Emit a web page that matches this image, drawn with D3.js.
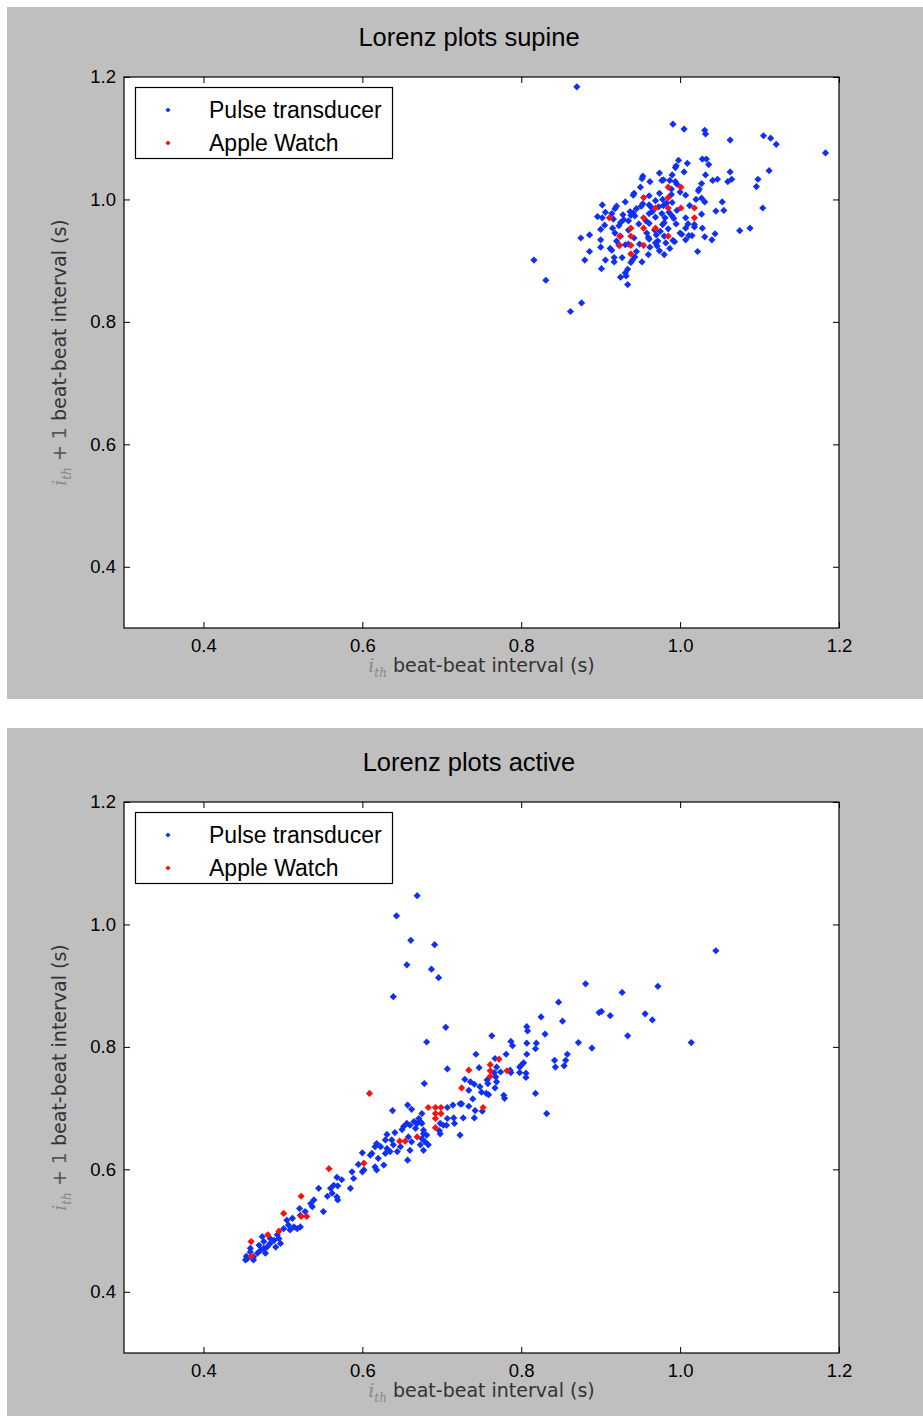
<!DOCTYPE html>
<html>
<head>
<meta charset="utf-8">
<script src="https://cdn.jsdelivr.net/npm/d3@7"></script>
<style>
  html, body { margin: 0; padding: 0; background: #ffffff; }
  svg { display: block; }
</style>
</head>
<body>
<svg id="chart" width="923" height="1416"></svg>
<script>
// ---------------- data ----------------
const xTicks = [0.4, 0.6, 0.8, 1.0, 1.2];
const yTicks = [0.4, 0.6, 0.8, 1.0, 1.2];
const seriesNames = ["Pulse transducer", "Apple Watch"];
const titles = ["Lorenz plots supine", "Lorenz plots active"];

const supinePulse = [
  [0.870,1.184],[0.991,1.123],[1.005,1.115],[1.031,1.113],[1.032,1.107],[1.063,1.097],[1.105,1.104],[1.114,1.100],[1.121,1.090],[1.183,1.076],
  [0.998,1.064],[1.009,1.059],[0.994,1.052],[0.995,1.055],[1.028,1.066],[1.033,1.066],[1.036,1.057],[1.005,1.045],[1.063,1.045],[1.112,1.047],[0.974,1.043],[1.032,1.040],
  [0.952,1.034],[0.953,1.038],[0.962,1.029],[0.977,1.031],[0.979,1.032],[0.987,1.031],[0.994,1.029],[0.996,1.025],[1.041,1.031],[1.047,1.033],[1.060,1.029],[1.065,1.033],
  [1.098,1.033],[1.096,1.021],[1.027,1.026],[1.024,1.017],[1.023,1.014],[1.000,1.012],[1.007,1.007],[0.989,1.017],[0.989,1.008],[0.974,1.010],[0.942,1.010],[0.941,1.007],
  [0.961,1.006],[0.969,0.998],[0.953,0.993],[0.951,0.989],[0.961,0.991],[0.963,0.988],[0.973,0.988],[0.979,0.990],[0.983,0.994],[0.931,0.996],[0.920,0.989],[0.902,0.991],
  [0.906,0.979],[0.896,0.972],[0.902,0.970],[0.937,0.980],[0.941,0.978],[0.938,0.974],[0.943,0.973],[0.961,0.977],[0.969,0.971],[0.977,0.977],[0.986,0.979],[0.990,0.973],
  [0.992,0.969],[0.981,0.970],[1.007,0.970],[1.027,0.976],[1.027,1.002],[1.031,0.996],[1.053,0.996],[1.045,0.981],[1.055,0.982],[1.104,0.986],[0.914,0.977],[0.916,0.968],
  [0.929,0.967],[0.925,0.962],[0.923,0.957],[0.915,0.953],[0.900,0.951],[0.935,0.950],[0.961,0.961],[0.978,0.959],[0.980,0.962],[0.985,0.952],[1.007,0.953],[1.018,0.959],
  [1.018,0.955],[1.028,0.953],[1.075,0.949],[1.088,0.953],[0.886,0.942],[0.875,0.937],[0.900,0.934],[0.900,0.922],[0.912,0.920],[0.914,0.917],[0.920,0.932],[0.923,0.925],
  [0.931,0.926],[0.935,0.927],[0.942,0.937],[0.949,0.927],[0.960,0.938],[0.961,0.935],[0.970,0.942],[0.972,0.932],[0.969,0.929],[0.971,0.924],[0.980,0.940],[0.991,0.933],
  [0.993,0.931],[0.982,0.929],[0.987,0.920],[0.974,0.916],[0.980,0.910],[0.962,0.922],[1.002,0.943],[1.007,0.934],[1.011,0.941],[1.015,0.941],[1.031,0.939],[1.044,0.944],
  [1.040,0.934],[1.022,0.915],[0.886,0.915],[0.880,0.901],[0.906,0.901],[0.917,0.898],[0.917,0.905],[0.927,0.905],[0.901,0.887],[0.938,0.897],[0.940,0.901],[0.943,0.906],
  [0.952,0.898],[0.925,0.873],[0.931,0.880],[0.934,0.886],[0.932,0.875],[0.934,0.861],[0.816,0.901],[0.831,0.868],[0.876,0.831],[0.862,0.817],
  [0.918,0.985],[0.928,0.975],[0.945,0.985],[0.957,0.965],[0.965,0.980],[0.948,0.960],[0.958,0.945],[0.975,0.948],[0.995,0.960],[1.000,0.945],[0.990,0.995],[1.012,0.990],
  [1.020,1.000],[0.968,0.950],[0.935,0.965],[0.918,0.945],[0.905,0.958],[0.945,0.915],[0.960,0.910],[0.925,0.940],[0.978,1.000],[0.996,0.982],[1.010,0.960],[0.950,1.020],[0.990,1.040]
];

const supineWatch = [
  [0.985,1.020],[1.001,1.020],[0.954,1.003],[0.985,1.003],[0.969,0.986],[0.985,0.986],[1.001,0.986],[1.018,0.986],[0.911,0.970],[0.954,0.970],[1.018,0.970],
  [0.938,0.953],[0.954,0.953],[0.969,0.953],[0.924,0.940],[0.938,0.940],[0.985,0.940],[0.924,0.925],[0.938,0.925],[0.954,0.925],[0.938,0.911]
];

const activePulse = [
  [0.669,1.047],[0.643,1.014],[0.661,0.974],[0.691,0.967],[0.656,0.934],[0.687,0.927],[0.696,0.913],[0.639,0.882],[0.705,0.832],[0.763,0.818],[0.681,0.808],[0.743,0.788],
  [0.707,0.764],[0.678,0.740],[0.787,0.809],[0.789,0.802],[0.781,0.788],[0.807,0.833],[0.808,0.826],[0.807,0.806],[0.807,0.788],[0.803,0.774],[0.798,0.767],[0.798,0.758],
  [0.806,0.757],[0.806,0.750],[0.786,0.762],[0.787,0.758],[0.774,0.759],[0.767,0.781],[0.769,0.767],[0.766,0.758],[0.768,0.751],[0.769,0.743],[0.757,0.746],[0.758,0.740],
  [0.756,0.724],[0.747,0.766],[0.729,0.747],[0.736,0.743],[0.741,0.739],[0.748,0.735],[0.734,0.729],[0.739,0.715],[0.750,0.726],[0.767,0.733],[0.778,0.721],[0.779,0.716],
  [1.045,0.957],[0.881,0.903],[0.972,0.899],[0.927,0.889],[0.847,0.873],[0.898,0.856],[0.901,0.858],[0.912,0.851],[0.956,0.854],[0.965,0.844],[0.825,0.849],[0.852,0.842],
  [0.830,0.821],[0.934,0.818],[1.014,0.807],[0.872,0.807],[0.889,0.798],[0.819,0.806],[0.818,0.797],[0.858,0.788],[0.856,0.778],[0.842,0.778],[0.843,0.767],[0.854,0.769],
  [0.800,0.770],[0.818,0.724],[0.832,0.691],[0.714,0.705],[0.723,0.707],[0.725,0.707],[0.734,0.703],[0.707,0.701],[0.742,0.696],[0.751,0.695],[0.675,0.691],[0.673,0.678],
  [0.675,0.675],[0.677,0.664],[0.681,0.656],[0.675,0.650],[0.683,0.640],[0.698,0.675],[0.702,0.672],[0.707,0.683],[0.715,0.684],[0.716,0.675],[0.727,0.684],[0.741,0.684],
  [0.697,0.663],[0.723,0.656],[0.759,0.722],
  [0.638,0.696],[0.657,0.705],[0.662,0.698],[0.671,0.683],[0.665,0.678],[0.656,0.675],[0.652,0.670],[0.650,0.665],[0.660,0.672],[0.667,0.667],[0.669,0.675],[0.641,0.660],
  [0.631,0.657],[0.629,0.648],[0.618,0.642],[0.623,0.637],[0.631,0.634],[0.637,0.648],[0.639,0.640],[0.648,0.637],[0.644,0.629],[0.635,0.629],[0.629,0.626],[0.620,0.618],
  [0.627,0.607],[0.612,0.626],[0.658,0.653],[0.662,0.645],[0.660,0.631],[0.677,0.658],[0.679,0.645],[0.673,0.640],[0.677,0.631],[0.698,0.658],[0.706,0.672],[0.657,0.615],
  [0.616,0.637],[0.600,0.627],[0.610,0.623],[0.600,0.596],[0.602,0.599],[0.595,0.608],[0.587,0.596],[0.589,0.585],[0.616,0.604],[0.618,0.599],
  [0.568,0.587],[0.574,0.583],[0.569,0.573],[0.564,0.574],[0.560,0.569],[0.562,0.561],[0.556,0.556],[0.568,0.555],[0.569,0.550],[0.585,0.569],[0.545,0.569],[0.539,0.550],
  [0.535,0.544],[0.537,0.539],[0.528,0.531],[0.522,0.525],[0.551,0.531],[0.521,0.536],[0.512,0.520],[0.505,0.517],[0.507,0.509],[0.514,0.506],[0.501,0.503],[0.509,0.501],
  [0.518,0.503],[0.522,0.506],[0.493,0.493],[0.495,0.487],[0.489,0.484],[0.484,0.479],[0.491,0.473],[0.497,0.479],[0.480,0.473],[0.476,0.471],[0.478,0.463],[0.472,0.468],
  [0.468,0.463],[0.463,0.457],[0.459,0.465],[0.455,0.454],[0.454,0.458],[0.463,0.452],[0.484,0.487],[0.476,0.482],[0.470,0.476],[0.474,0.490],[0.459,0.471],[0.453,0.452]
];

const activeWatch = [
  [0.609,0.724],[0.734,0.762],[0.725,0.733],[0.761,0.771],[0.761,0.761],[0.761,0.752],[0.772,0.780],[0.782,0.761],[0.683,0.701],[0.692,0.701],[0.699,0.701],[0.692,0.691],
  [0.699,0.691],[0.692,0.683],[0.752,0.701],[0.692,0.668],[0.669,0.653],[0.647,0.646],[0.654,0.646],[0.602,0.610],[0.558,0.601],[0.523,0.556],[0.501,0.528],[0.523,0.523],
  [0.530,0.523],[0.495,0.499],[0.481,0.493],[0.460,0.482],[0.460,0.458]
];

// ---------------- drawing ----------------
const svg = d3.select("#chart");
const W = 923, H = 1416;
const colors = ["#1030f5", "#ff1010"];
const sansFont = "'Liberation Sans', Arial, Helvetica, sans-serif";
const labelFont = "'DejaVu Sans', sans-serif";

const panels = [
  { y0: 7, y1: 699, plotTop: 77, title: titles[0], pulse: supinePulse, watch: supineWatch },
  { y0: 728, y1: 1416, plotTop: 802, title: titles[1], pulse: activePulse, watch: activeWatch }
];

const plotLeft = 124, plotRight = 839, plotH = 551;
const x = d3.scaleLinear().domain([0.3, 1.2]).range([plotLeft, plotRight]);

function diamond(r) {
  return `M0,${-r}L${r},0L0,${r}L${-r},0Z`;
}

panels.forEach(p => {
  const g = svg.append("g");
  const top = p.plotTop, bottom = p.plotTop + plotH;
  const y = d3.scaleLinear().domain([0.3, 1.2]).range([bottom, top]);

  // gray figure background
  g.append("rect").attr("x", 7).attr("y", p.y0).attr("width", W - 7).attr("height", p.y1 - p.y0)
    .attr("fill", "#bfbfbf");

  // plot area
  g.append("rect").attr("x", plotLeft).attr("y", top).attr("width", plotRight - plotLeft).attr("height", plotH)
    .attr("fill", "#ffffff");

  // title
  g.append("text").attr("x", 469).attr("y", top - 31)
    .attr("text-anchor", "middle").attr("font-family", sansFont).attr("font-size", 25.5)
    .attr("fill", "#000").text(p.title);

  // points
  const pts = g.append("g");
  pts.selectAll("path.pulse").data(p.pulse).join("path").attr("class", "pulse")
    .attr("d", diamond(3.6))
    .attr("transform", d => `translate(${x(d[0])},${y(d[1])})`)
    .attr("fill", colors[0]);
  pts.selectAll("path.watch").data(p.watch).join("path").attr("class", "watch")
    .attr("d", diamond(3.6))
    .attr("transform", d => `translate(${x(d[0])},${y(d[1])})`)
    .attr("fill", colors[1]);

  // axes (inward ticks on all sides)
  const styleAxis = sel => {
    sel.select(".domain").remove();
    sel.selectAll(".tick line").attr("stroke", "#000").attr("stroke-width", 1);
    sel.selectAll(".tick text").attr("font-family", sansFont).attr("font-size", 18.5).attr("fill", "#000");
  };
  g.append("g").attr("transform", `translate(0,${bottom})`)
    .call(d3.axisBottom(x).tickValues(xTicks).tickFormat(d3.format(".1f")).tickSize(-6).tickPadding(11))
    .call(styleAxis);
  g.append("g").attr("transform", `translate(0,${top})`)
    .call(d3.axisTop(x).tickValues(xTicks).tickFormat("").tickSize(-6))
    .call(styleAxis);
  g.append("g").attr("transform", `translate(${plotLeft},0)`)
    .call(d3.axisLeft(y).tickValues(yTicks).tickFormat(d3.format(".1f")).tickSize(-6).tickPadding(8))
    .call(styleAxis);
  g.append("g").attr("transform", `translate(${plotRight},0)`)
    .call(d3.axisRight(y).tickValues(yTicks).tickFormat("").tickSize(-6))
    .call(styleAxis);

  // frame
  g.append("rect").attr("x", plotLeft).attr("y", top).attr("width", plotRight - plotLeft).attr("height", plotH)
    .attr("fill", "none").attr("stroke", "#000").attr("stroke-width", 1.2);

  // x label
  const xl = g.append("text").attr("x", (plotLeft + plotRight) / 2).attr("y", bottom + 44)
    .attr("text-anchor", "middle").attr("font-family", labelFont).attr("font-size", 19).attr("fill", "#333");
  xl.append("tspan").attr("font-family", "'DejaVu Serif', serif").attr("font-style", "italic").attr("fill", "#888").text("i");
  xl.append("tspan").attr("font-family", "'DejaVu Serif', serif").attr("font-style", "italic").attr("fill", "#888")
    .attr("font-size", 12).attr("dy", 5).text("th");
  xl.append("tspan").attr("dy", -5).text(" beat-beat interval (s)");

  // y label
  const cy = (top + bottom) / 2;
  const yl = g.append("text").attr("transform", `translate(66,${cy}) rotate(-90)`)
    .attr("text-anchor", "middle").attr("font-family", labelFont).attr("font-size", 19).attr("fill", "#333");
  yl.append("tspan").attr("font-family", "'DejaVu Serif', serif").attr("font-style", "italic").attr("fill", "#888").text("i");
  yl.append("tspan").attr("font-family", "'DejaVu Serif', serif").attr("font-style", "italic").attr("fill", "#888")
    .attr("font-size", 12).attr("dy", 5).text("th");
  yl.append("tspan").attr("dy", -5).attr("fill", "#555").text(" + 1");
  yl.append("tspan").text(" beat-beat interval (s)");

  // legend
  const lg = g.append("g");
  lg.append("rect").attr("x", 135.5).attr("y", top + 10.5).attr("width", 257).attr("height", 71)
    .attr("fill", "#fff").attr("stroke", "#000").attr("stroke-width", 1.2);
  seriesNames.forEach((name, i) => {
    const ly = top + 33 + i * 33;
    lg.append("path").attr("d", diamond(2.6)).attr("transform", `translate(168,${ly})`).attr("fill", colors[i]);
    lg.append("text").attr("x", 209).attr("y", ly).attr("dy", "0.36em")
      .attr("font-family", sansFont).attr("font-size", 23).attr("fill", "#000").text(name);
  });
});
</script>
</body>
</html>
